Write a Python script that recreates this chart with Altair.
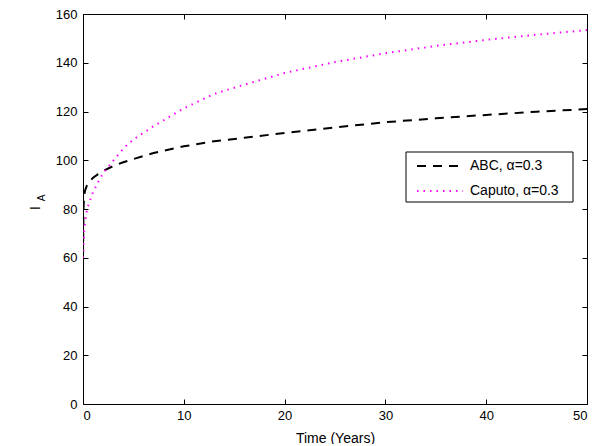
import altair as alt
import pandas as pd

# ---- data ----
t_years = [0, 0.05, 0.1, 0.2, 0.4, 0.7, 1, 1.5, 2, 3, 4, 5, 7, 10, 13, 16, 20, 25, 30, 35, 40, 45, 50]
abc_vals = [60, 80, 85, 87.5, 89.8, 91.5, 92.8, 94.3, 95.6, 97.6, 99.2, 100.5, 103, 105.7,
            107.8, 109.2, 111.2, 113.5, 115.6, 117.2, 118.6, 119.9, 121]
caputo_vals = [60, 66, 70, 74.5, 80, 83.5, 87, 91, 94.7, 99.8, 104.8, 108.5, 114, 121.3,
               127.2, 131, 135.8, 140.3, 143.9, 146.9, 149.4, 151.5, 153.4]
series_names = ["ABC, α=0.3", "Caputo, α=0.3"]
series_colors = ["#000000", "#ff00ff"]
series_dashes = [[9, 7], [1.5, 5]]
x_ticks = [0, 10, 20, 30, 40, 50]
y_ticks = [0, 20, 40, 60, 80, 100, 120, 140, 160]

rows = []
for ti, a, c in zip(t_years, abc_vals, caputo_vals):
    rows.append({"t": ti, "v": a, "s": series_names[0]})
    rows.append({"t": ti, "v": c, "s": series_names[1]})
df = pd.DataFrame(rows)

FONT = "Liberation Sans"
xs = alt.Scale(domain=[0, 50], nice=False, zero=False)
ys = alt.Scale(domain=[0, 160], nice=False)

legend = alt.Legend(
    title=None, orient="none", legendX=339, legendY=134, padding=0,
    symbolType="M-1.353,0H1.353", symbolSize=34 * 34, symbolStrokeWidth=2,
    labelFont=FONT, labelFontSize=14, labelColor="black", labelOffset=12,
    rowPadding=0,
)

lines = alt.Chart(df).mark_line(clip=True, strokeWidth=2).encode(
    x=alt.X("t:Q", scale=xs, axis=alt.Axis(
        values=x_ticks, orient="bottom", offset=-5, tickSize=5, domain=False, grid=False,
        tickColor="black", labelColor="black", labelFont=FONT, labelFontSize=13,
        labelPadding=5, title="Time (Years)", titleFont=FONT, titleFontSize=14,
        titleFontWeight="normal", titleColor="black", titlePadding=9)),
    y=alt.Y("v:Q", scale=ys, axis=alt.Axis(
        values=y_ticks, orient="left", offset=-5, tickSize=5, domain=False, grid=False,
        tickColor="black", labelColor="black", labelFont=FONT, labelFontSize=13,
        labelPadding=6, title=None)),
    color=alt.Color("s:N", scale=alt.Scale(domain=series_names, range=series_colors), legend=legend),
    strokeDash=alt.StrokeDash("s:N", scale=alt.Scale(domain=series_names, range=series_dashes), legend=legend),
)

mirror = alt.Chart(df).mark_line(opacity=0).encode(
    x=alt.X("t:Q", scale=xs, axis=alt.Axis(
        values=x_ticks, orient="top", offset=-5, tickSize=5, domain=False, grid=False,
        labels=False, tickColor="black", title=None)),
    y=alt.Y("v:Q", scale=ys, axis=alt.Axis(
        values=y_ticks, orient="right", offset=-5, tickSize=5, domain=False, grid=False,
        labels=False, tickColor="black", title=None)),
    detail="s:N",
)

lab = pd.DataFrame({"k": [0]})
legend_box = alt.Chart(lab).mark_rect(fill="white", stroke="black", strokeWidth=1).encode(
    x=alt.value(323), x2=alt.value(490), y=alt.value(138), y2=alt.value(188))

ytitle_i = alt.Chart(lab).mark_text(angle=270, font=FONT, fontSize=14, color="black",
                                    align="center", baseline="middle").encode(
    x=alt.value(-47), y=alt.value(194), text=alt.value("I"))
ytitle_a = alt.Chart(lab).mark_text(angle=270, font=FONT, fontSize=10, color="black",
                                    align="center", baseline="middle").encode(
    x=alt.value(-41), y=alt.value(184), text=alt.value("A"))

chart = alt.layer(lines, mirror, legend_box, ytitle_i, ytitle_a).resolve_axis(
    x="independent", y="independent"
).properties(
    width=504, height=390,
    autosize=alt.AutoSizeParams(type="none"),
    padding={"left": 75, "top": 6, "right": 6, "bottom": 40},
    background="white",
).configure_view(stroke="black", strokeWidth=1, fill="white")

chart.save("out.html", embed_options={"renderer": "svg", "actions": False})
